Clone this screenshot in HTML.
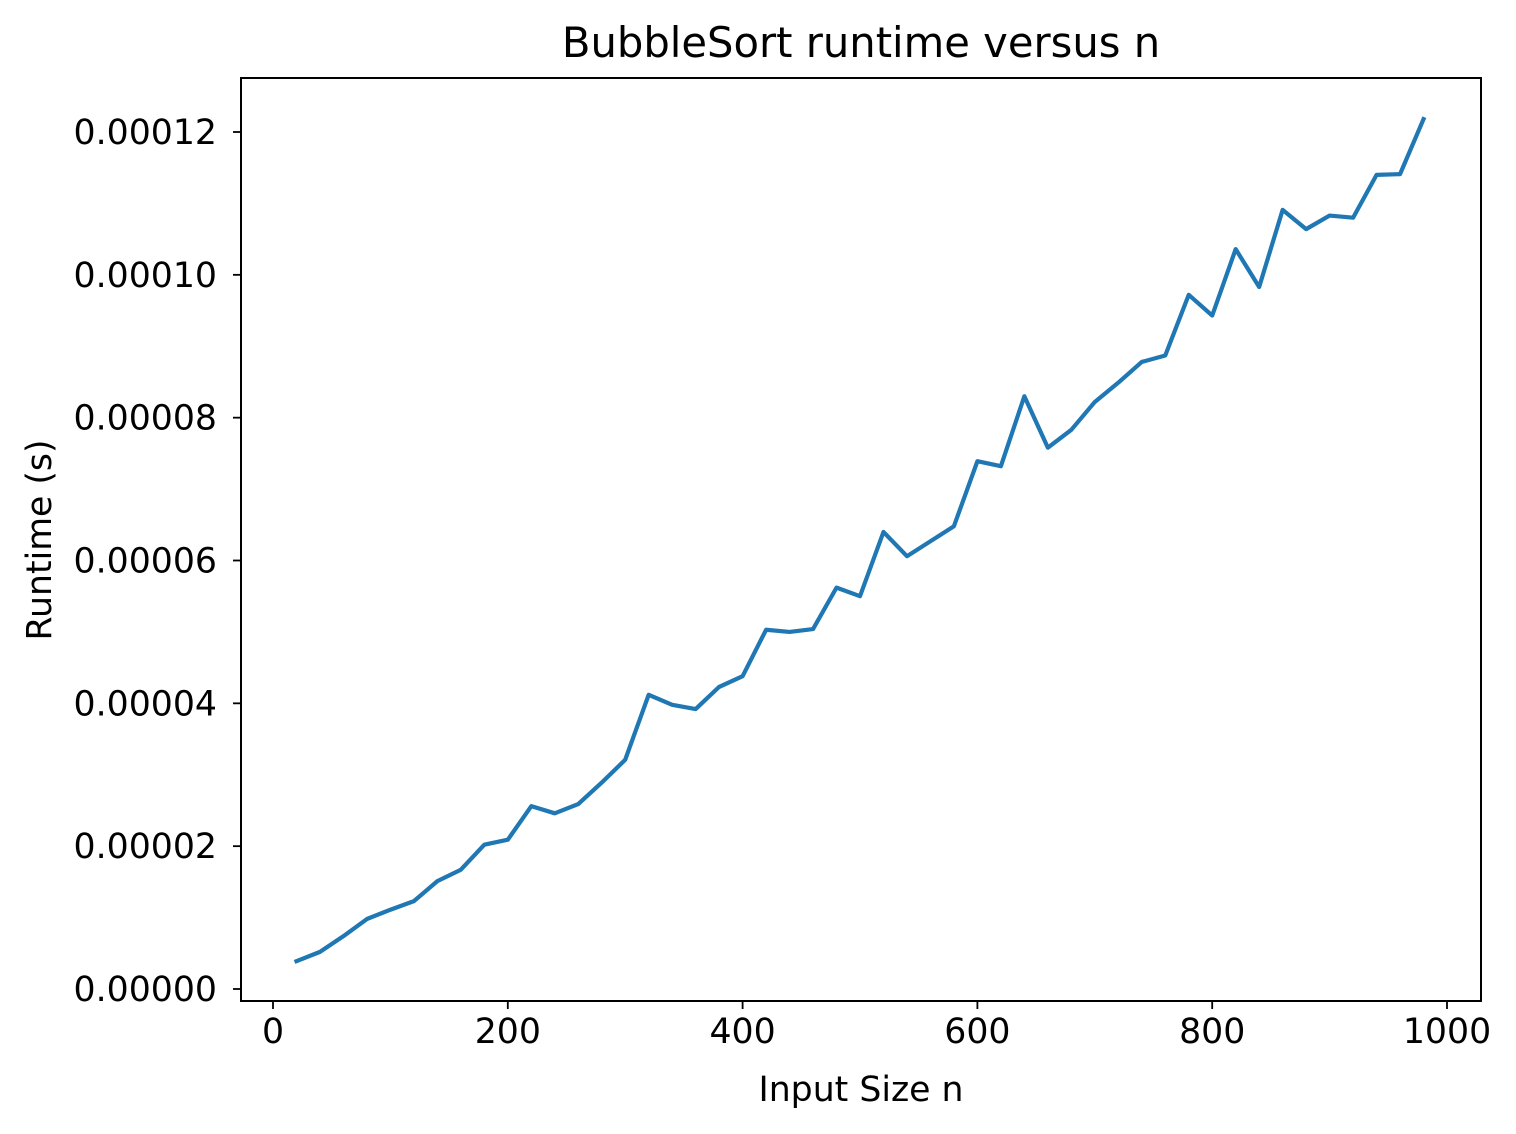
<!DOCTYPE html>
<html><head><meta charset="utf-8"><style>
html,body{margin:0;padding:0;background:#fff;}
svg{display:block;font-family:"DejaVu Sans","Liberation Sans",sans-serif;}
</style></head><body>
<svg id="chart" width="1516" height="1134" viewBox="0 0 1516 1134">
<text x="861" y="57" text-anchor="middle" style="font-size:41.7px">BubbleSort runtime versus n</text>
<text x="861" y="1101" text-anchor="middle" style="font-size:34.7px">Input Size n</text>
<text transform="translate(51,540) rotate(-90)" text-anchor="middle" style="font-size:34.7px">Runtime (s)</text>
<g id="plot"></g>
</svg>
<script>
const nValues = [20,40,60,80,100,120,140,160,180,200,220,240,260,280,300,320,340,360,380,400,420,440,460,480,500,520,540,560,580,600,620,640,660,680,700,720,740,760,780,800,820,840,860,880,900,920,940,960,980];
const runtimes = [0.39,0.52,0.74,0.98,1.11,1.23,1.51,1.67,2.02,2.09,2.56,2.46,2.59,2.89,3.21,4.12,3.98,3.92,4.23,4.38,5.03,5.00,5.04,5.62,5.50,6.40,6.06,6.27,6.48,7.39,7.32,8.30,7.58,7.83,8.22,8.49,8.78,8.87,9.72,9.43,10.36,9.83,10.91,10.64,10.83,10.80,11.40,11.41,12.18].map(v=>v*1e-5);
const xTicks = [0,200,400,600,800,1000];
const yTicks = [0,0.00002,0.00004,0.00006,0.00008,0.0001,0.00012];
const yTickLabels = ["0.00000","0.00002","0.00004","0.00006","0.00008","0.00010","0.00012"];

const L=241,R=1481,T=78,B=1001;
const xs = v => 273 + (v-0)*(1447-273)/1000;
const ys = v => 989 - v*(989-132)/0.00012;
const NS="http://www.w3.org/2000/svg";
const g=document.getElementById('plot');
function mk(t,a){const e=document.createElementNS(NS,t);for(const k in a)e.setAttribute(k,a[k]);g.appendChild(e);return e;}

const line=mk('polyline',{points:nValues.map((n,i)=>xs(n)+','+ys(runtimes[i])).join(' '),fill:'none',stroke:'#1f77b4','stroke-width':4.2,'stroke-linejoin':'round','stroke-linecap':'square'});



const frame=mk('rect',{x:L,y:T,width:R-L,height:B-T,fill:'none',stroke:'#000','stroke-width':2});



xTicks.forEach(v=>{
  const x=xs(v);
  const tk=mk('line',{x1:x,x2:x,y1:B,y2:B+8,stroke:'#000','stroke-width':1.8});
  
  
  const t=mk('text',{x:x,y:B+42,'text-anchor':'middle',style:'font-size:34.7px'});
  t.textContent=v;
  
  
});
yTicks.forEach((v,i)=>{
  const y=ys(v);
  const tk=mk('line',{x1:L-8,x2:L,y1:y,y2:y,stroke:'#000','stroke-width':1.8});
  
  
  const t=mk('text',{x:L-24,y:y+12,'text-anchor':'end',style:'font-size:34.7px'});
  t.textContent=yTickLabels[i];
  
  
});
</script>
</body></html>
